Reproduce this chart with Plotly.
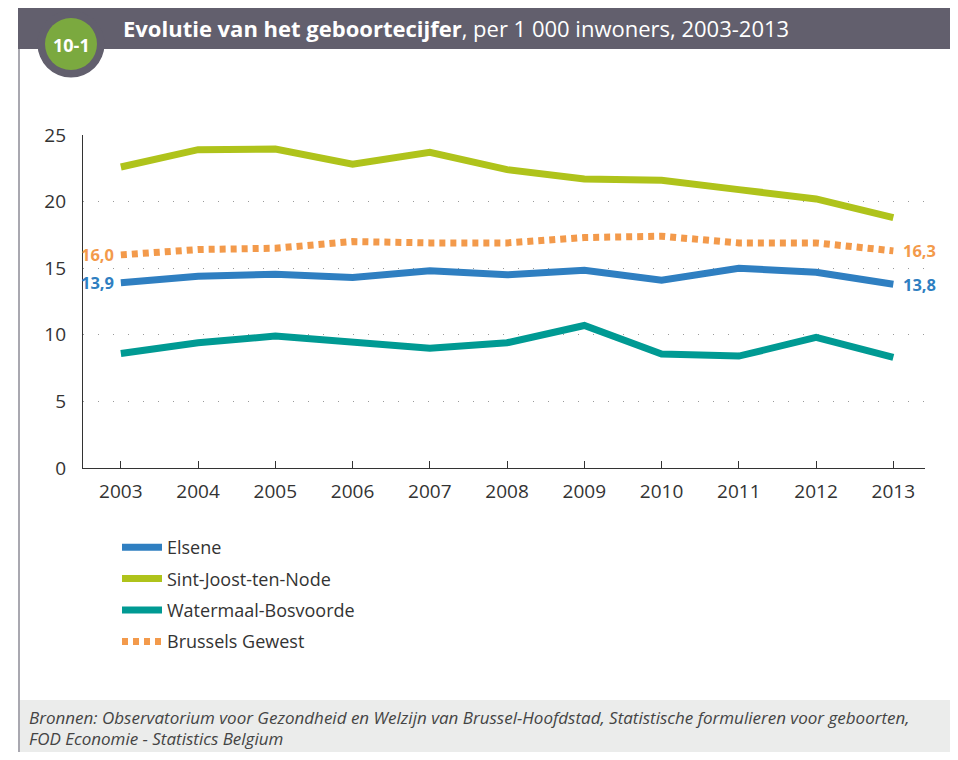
import plotly.graph_objects as go

years = [2003, 2004, 2005, 2006, 2007, 2008, 2009, 2010, 2011, 2012, 2013]
elsene = [13.9, 14.4, 14.55, 14.3, 14.8, 14.5, 14.85, 14.1, 15.0, 14.7, 13.8]
sint_joost = [22.6, 23.9, 23.95, 22.8, 23.7, 22.4, 21.7, 21.6, 20.9, 20.2, 18.8]
watermaal = [8.6, 9.4, 9.9, 9.5, 9.0, 9.4, 10.7, 8.55, 8.4, 9.8, 8.3]
brussels = [16.0, 16.4, 16.5, 17.0, 16.9, 16.9, 17.3, 17.4, 16.9, 16.9, 16.3]
series_names = ["Elsene", "Sint-Joost-ten-Node", "Watermaal-Bosvoorde", "Brussels Gewest"]
y_ticks = [0, 5, 10, 15, 20, 25]
source_lines = [
    "Bronnen: Observatorium voor Gezondheid en Welzijn van Brussel-Hoofdstad, Statistische formulieren voor geboorten,",
    "FOD Economie - Statistics Belgium",
]

C_ELS = "#2F7FC1"
C_SJ = "#AFC31B"
C_WB = "#009A93"
C_BR = "#F39A4B"

# page has an 8px body margin; figure sized to fit the window without scrollbars
OFF = 8
FW, FH = 958 - 2 * OFF, 760 - 2 * OFF
# plot area in page pixels
L, R, T, B = 83, 925, 135, 468
l_m, r_m, t_m, b_m = L - OFF, FW - (R - OFF), T - OFF, FH - (B - OFF)


def px(x):
    return (x - L) / (R - L)


def py(y):
    return (B - y) / (B - T)


fig = go.Figure()
specs = [
    (elsene, series_names[0], C_ELS, "solid"),
    (sint_joost, series_names[1], C_SJ, "solid"),
    (watermaal, series_names[2], C_WB, "solid"),
    (brussels, series_names[3], C_BR, "6px,5px"),
]
for i, (vals, name, col, dash) in enumerate(specs):
    fig.add_trace(go.Scatter(
        x=years, y=vals, name=name, mode="lines",
        line=dict(color=col, width=7, dash=dash),
        legendgroup=f"g{i}", hoverinfo="skip",
    ))


def fmt(v):
    return f"{v:.1f}".replace(".", ",")


annotations = []
for vals, col in [(brussels, C_BR), (elsene, C_ELS)]:
    annotations.append(dict(x=years[0], y=vals[0], xref="x", yref="y", text=f"<b>{fmt(vals[0])}</b>",
                            showarrow=False, xanchor="right", xshift=-5,
                            font=dict(size=16.5, color=col, family="Open Sans")))
    annotations.append(dict(x=years[-1], y=vals[-1], xref="x", yref="y", text=f"<b>{fmt(vals[-1])}</b>",
                            showarrow=False, xanchor="left", xshift=8,
                            font=dict(size=16.5, color=col, family="Open Sans")))

# header title
annotations.append(dict(x=px(121), y=py(28), xref="paper", yref="paper",
                        text="<b>Evolutie van het geboortecijfer</b>, per 1 000 inwoners, 2003-2013",
                        showarrow=False, xanchor="left", yanchor="middle",
                        font=dict(size=22, color="white", family="Open Sans")))
annotations.append(dict(x=px(71), y=py(45), xref="paper", yref="paper",
                        text="<b>10-1</b>", showarrow=False, xanchor="center", yanchor="middle",
                        font=dict(size=18, color="white", family="Open Sans")))
# footer (two lines)
for line_text, yy in zip(source_lines, [717, 738]):
    annotations.append(dict(x=px(27), y=py(yy), xref="paper", yref="paper",
                            text=f"<i>{line_text}</i>",
                            showarrow=False, xanchor="left", yanchor="middle", align="left",
                            font=dict(size=17, color="#444444", family="Open Sans")))

shapes = [
    # header bar
    dict(type="rect", xref="paper", yref="paper", x0=px(18), x1=px(970), y0=py(6), y1=py(49),
         fillcolor="#625F6D", line=dict(width=0), layer="below"),
    # frame left border
    dict(type="line", xref="paper", yref="paper", x0=px(19), x1=px(19), y0=py(49), y1=py(770),
         line=dict(color="#8C8B96", width=1.5)),
    # footer box
    dict(type="rect", xref="paper", yref="paper", x0=px(20), x1=px(970), y0=py(700), y1=py(770),
         fillcolor="#EBECEB", line=dict(width=0), layer="below"),
    # badge circles
    dict(type="circle", xref="paper", yref="paper", x0=px(71 - 33.5), x1=px(71 + 33.5),
         y0=py(44 + 33.5), y1=py(44 - 33.5), fillcolor="#625F6D", line=dict(width=0)),
    dict(type="circle", xref="paper", yref="paper", x0=px(71 - 26), x1=px(71 + 26),
         y0=py(44 + 26), y1=py(44 - 26), fillcolor="#7BA93F", line=dict(width=0)),
]

fig.update_layout(
    width=FW, height=FH,
    margin=dict(l=l_m, r=r_m, t=t_m, b=b_m, pad=0),
    paper_bgcolor="white", plot_bgcolor="white",
    font=dict(family="Open Sans", color="#333333", size=18),
    showlegend=True,
    legend=dict(x=px(117), y=py(529), xanchor="left", yanchor="top",
                font=dict(size=18, color="#333333"), tracegroupgap=5,
                bgcolor="rgba(0,0,0,0)", itemwidth=40),
    xaxis=dict(range=[2002.51, 2013.41], tickvals=years, ticktext=[str(y) for y in years],
               showgrid=False, zeroline=False, showline=True, linecolor="#333333", linewidth=1.2,
               ticks="inside", ticklen=7, tickcolor="#333333", ticklabelstandoff=6,
               tickfont=dict(size=19, color="#333333")),
    yaxis=dict(range=[0, 25], tickvals=y_ticks, showgrid=True, gridcolor="#9A9A9A", gridwidth=1,
               griddash="1px,14px", zeroline=False, showline=True, linecolor="#333333", linewidth=1.2,
               ticks="", ticklabelstandoff=12, tickfont=dict(size=19, color="#333333")),
    annotations=annotations, shapes=shapes,
)

fig.write_html("out.html")
